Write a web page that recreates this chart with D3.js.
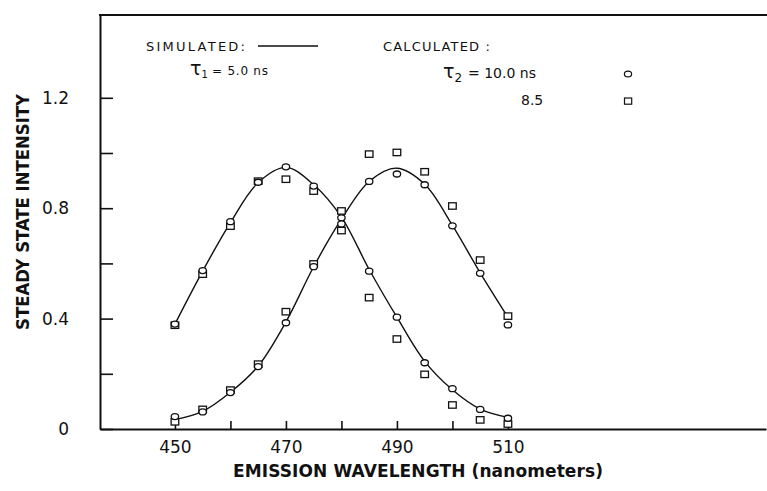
<!DOCTYPE html>
<html>
<head>
<meta charset="utf-8">
<script src="https://cdn.jsdelivr.net/npm/d3@7"></script>
<style>
  body { margin: 0; background: #fff; }
  svg { display: block; }
  text { fill: #111; font-family: "DejaVu Sans", sans-serif; }
</style>
</head>
<body>
<svg id="chart"></svg>
<script>
// Emission wavelengths (nm), one sample every 5 nm
const wavelengths = [450, 455, 460, 465, 470, 475, 480, 485, 490, 495, 500, 505, 510];

// Simulated spectra (solid lines): short-wavelength (tau1) and long-wavelength components
const simulatedBlue = [0.380, 0.572, 0.748, 0.893, 0.948, 0.885, 0.768, 0.578, 0.405, 0.245, 0.142, 0.072, 0.042];
const simulatedRed  = [0.034, 0.064, 0.133, 0.228, 0.388, 0.588, 0.760, 0.897, 0.945, 0.887, 0.738, 0.566, 0.405];

// Calculated with tau2 = 10.0 ns (circles)
const calc10Blue = [0.380, 0.574, 0.751, 0.894, 0.950, 0.880, 0.765, 0.572, 0.405, 0.240, 0.146, 0.071, 0.039];
const calc10Red  = [0.045, 0.062, 0.132, 0.226, 0.385, 0.588, 0.743, 0.897, 0.924, 0.885, 0.736, 0.564, 0.377];

// Calculated with tau2 = 8.5 ns (squares)
const calc85Blue = [0.376, 0.561, 0.735, 0.898, 0.905, 0.862, 0.719, 0.476, 0.326, 0.198, 0.087, 0.033, 0.018];
const calc85Red  = [0.026, 0.071, 0.141, 0.235, 0.425, 0.598, 0.790, 0.996, 1.002, 0.932, 0.808, 0.612, 0.409];

// Axis ticks and which of them carry a label
const xTicks = [450, 460, 470, 480, 490, 500, 510];
const xTickLabels = [450, 470, 490, 510];
const yTicks = [0, 0.2, 0.4, 0.6, 0.8, 1.0, 1.2];
const yTickLabels = [0, 0.4, 0.8, 1.2];

const W = 767, H = 491;
const plot = { left: 100, right: 766, top: 15, bottom: 429 };

const svg = d3.select("#chart").attr("width", W).attr("height", H);

// the original frame runs on past 510 nm to the edge of the page
const x = d3.scaleLinear().domain([436.5, 556.5]).range([plot.left, plot.right]);
const y = d3.scaleLinear().domain([0, 1.5]).range([plot.bottom, plot.top]);

// --- axes (ticks point inward, like the original plot) ---
const yAxis = d3.axisLeft(y)
    .tickValues(yTicks)
    .tickSizeInner(-13)
    .tickSizeOuter(0)
    .tickPadding(31)
    .tickFormat(d => yTickLabels.includes(d) ? (d === 0 ? "0" : d.toFixed(1)) : "");

const xAxis = d3.axisBottom(x)
    .tickValues(xTicks)
    .tickSizeInner(-8)
    .tickSizeOuter(0)
    .tickPadding(12)
    .tickFormat(d => xTickLabels.includes(d) ? d : "");

const gy = svg.append("g")
    .attr("transform", `translate(${plot.left},0)`)
    .call(yAxis);

const gx = svg.append("g")
    .attr("transform", `translate(0,${plot.bottom})`)
    .call(xAxis);

[gx, gy].forEach(g => {
    g.select(".domain").attr("stroke", "#111").attr("stroke-width", 2);
    g.selectAll(".tick line").attr("stroke", "#111").attr("stroke-width", 1.6);
    g.selectAll(".tick text")
        .attr("fill", "#111")
        .style("font-family", "'DejaVu Sans', sans-serif")
        .style("font-size", "17px");
});

// top frame line
svg.append("line")
    .attr("x1", plot.left - 1).attr("x2", W)
    .attr("y1", y(1.5)).attr("y2", y(1.5))
    .attr("stroke", "#111").attr("stroke-width", 1.8);

// --- simulated curves ---
const line = d3.line()
    .x(d => x(d[0]))
    .y(d => y(d[1]))
    .curve(d3.curveCatmullRom.alpha(0.5));

[simulatedBlue, simulatedRed].forEach(vals => {
    svg.append("path")
        .datum(wavelengths.map((w, i) => [w, vals[i]]))
        .attr("d", line)
        .attr("fill", "none")
        .attr("stroke", "#111")
        .attr("stroke-width", 1.4);
});

// --- calculated points ---
function drawSquares(vals) {
    svg.append("g").selectAll("rect")
        .data(wavelengths.map((w, i) => [w, vals[i]]))
        .join("rect")
        .attr("x", d => x(d[0]) - 3.8)
        .attr("y", d => y(d[1]) - 3.2)
        .attr("width", 7.6)
        .attr("height", 6.4)
        .attr("fill", "#fff")
        .attr("stroke", "#111")
        .attr("stroke-width", 1.3);
}

function drawCircles(vals) {
    svg.append("g").selectAll("ellipse")
        .data(wavelengths.map((w, i) => [w, vals[i]]))
        .join("ellipse")
        .attr("cx", d => x(d[0]))
        .attr("cy", d => y(d[1]))
        .attr("rx", 3.7)
        .attr("ry", 3)
        .attr("fill", "#fff")
        .attr("stroke", "#111")
        .attr("stroke-width", 1.3);
}

drawSquares(calc85Blue);
drawSquares(calc85Red);
drawCircles(calc10Blue);
drawCircles(calc10Red);

// --- legend ---
const legend = svg.append("g").style("font-size", "13px");

legend.append("text").attr("x", 146).attr("y", 51)
    .attr("textLength", 99).attr("lengthAdjust", "spacing")
    .text("SIMULATED:");
legend.append("line")
    .attr("x1", 258).attr("x2", 318).attr("y1", 46).attr("y2", 46)
    .attr("stroke", "#111").attr("stroke-width", 1.3);
legend.append("text").attr("x", 383).attr("y", 51)
    .attr("textLength", 107).attr("lengthAdjust", "spacing")
    .text("CALCULATED :");

// tau1 label
const t1 = legend.append("text").attr("x", 190).attr("y", 75);
t1.append("tspan").style("font-size", "19px").text("τ");
t1.append("tspan").attr("dy", 3).style("font-size", "10px").text("1");
legend.append("text").attr("x", 212).attr("y", 75)
    .attr("textLength", 56).attr("lengthAdjust", "spacing")
    .style("font-size", "12px").text("= 5.0 ns");

// tau2 label
const t2 = legend.append("text").attr("x", 443).attr("y", 78);
t2.append("tspan").style("font-size", "19px").text("τ");
t2.append("tspan").attr("dy", 4).style("font-size", "12px").text("2");
legend.append("text").attr("x", 468).attr("y", 78)
    .style("font-size", "14px").text("= 10.0 ns");

legend.append("text").attr("x", 521).attr("y", 105)
    .style("font-size", "14px").text("8.5");

legend.append("ellipse")
    .attr("cx", 628).attr("cy", 74).attr("rx", 3.6).attr("ry", 2.9)
    .attr("fill", "#fff").attr("stroke", "#111").attr("stroke-width", 1.2);
legend.append("rect")
    .attr("x", 624.5).attr("y", 98).attr("width", 7.2).attr("height", 6.2)
    .attr("fill", "#fff").attr("stroke", "#111").attr("stroke-width", 1.2);

// --- axis titles ---
svg.append("text")
    .attr("transform", "translate(29,212) rotate(-90)")
    .attr("text-anchor", "middle")
    .attr("textLength", 236).attr("lengthAdjust", "spacingAndGlyphs")
    .style("font-size", "17px").style("font-weight", "bold")
    .style("font-family", "'DejaVu Sans Condensed', 'DejaVu Sans', sans-serif")
    .text("STEADY STATE INTENSITY");

svg.append("text")
    .attr("x", 418).attr("y", 477)
    .attr("text-anchor", "middle")
    .attr("textLength", 370).attr("lengthAdjust", "spacing")
    .style("font-size", "17px").style("font-weight", "bold")
    .text("EMISSION WAVELENGTH (nanometers)");
</script>
</body>
</html>
